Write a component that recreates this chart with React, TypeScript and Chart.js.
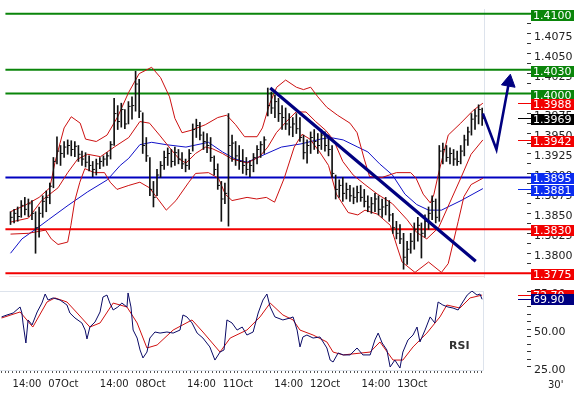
import { useEffect, useRef } from 'react';
import { Chart, registerables } from 'chart.js';
Chart.register(...registerables);

// ---------- price bars (hourly, index = bar number) ----------
const highs = [
  1.3852, 1.3855, 1.3858, 1.3866, 1.3870, 1.3868, 1.3866, 1.3852, 1.3858, 1.3872,
  1.3878, 1.3888, 1.3920, 1.3946, 1.3935, 1.3940, 1.3942, 1.3941, 1.3940, 1.3935,
  1.3928, 1.3926, 1.3922, 1.3915, 1.3918, 1.3920, 1.3922, 1.3926, 1.3940, 1.3994,
  1.3985, 1.3988, 1.3980, 1.3990, 1.3996, 1.4028, 1.4018, 1.3976, 1.3945, 1.3920,
  1.3890, 1.3905, 1.3915, 1.3928, 1.3932, 1.3930, 1.3933, 1.3930, 1.3926, 1.3918,
  1.3930, 1.3962, 1.3968, 1.3964, 1.3952, 1.3950, 1.3945, 1.3922, 1.3912, 1.3890,
  1.3888, 1.3975, 1.3948, 1.3940, 1.3935, 1.3930, 1.3920, 1.3916, 1.3925, 1.3935,
  1.3940, 1.3946, 1.4007, 1.4002, 1.3998, 1.3994, 1.3985, 1.3982, 1.3975, 1.3970,
  1.3975, 1.3970, 1.3948, 1.3942, 1.3952, 1.3955, 1.3950, 1.3955, 1.3952, 1.3948,
  1.3935, 1.3898, 1.3892, 1.3895, 1.3888, 1.3885, 1.3882, 1.3884, 1.3885, 1.3880,
  1.3872, 1.3870, 1.3875, 1.3872, 1.3868, 1.3870, 1.3866, 1.3850, 1.3840, 1.3836,
  1.3825, 1.3815, 1.3825, 1.3838, 1.3845, 1.3838, 1.3848, 1.3858, 1.3872, 1.3868,
  1.3935, 1.3938, 1.3935, 1.3932, 1.3930, 1.3928, 1.3935, 1.3948, 1.3958, 1.3975,
  1.3980, 1.3986, 1.3982,
];
const lows = [
  1.3836, 1.3838, 1.3840, 1.3845, 1.3848, 1.3846, 1.3842, 1.3800, 1.3820, 1.3845,
  1.3852, 1.3862, 1.3882, 1.3912, 1.3910, 1.3920, 1.3924, 1.3922, 1.3921, 1.3915,
  1.3910, 1.3908, 1.3903, 1.3896, 1.3898, 1.3906, 1.3909, 1.3910, 1.3918, 1.3935,
  1.3955, 1.3958, 1.3956, 1.3962, 1.3968, 1.3978, 1.3970, 1.3925, 1.3915, 1.3872,
  1.3858, 1.3872, 1.3895, 1.3905, 1.3910, 1.3908, 1.3910, 1.3912, 1.3906, 1.3902,
  1.3905, 1.3928, 1.3945, 1.3942, 1.3930, 1.3926, 1.3915, 1.3898, 1.3880, 1.3840,
  1.3862, 1.3834, 1.3915, 1.3910, 1.3905, 1.3900, 1.3898, 1.3896, 1.3902, 1.3912,
  1.3920, 1.3925, 1.3972, 1.3975, 1.3970, 1.3965, 1.3955, 1.3955, 1.3948, 1.3946,
  1.3950, 1.3940, 1.3918, 1.3913, 1.3925, 1.3930, 1.3925, 1.3930, 1.3928, 1.3922,
  1.3895, 1.3868, 1.3870, 1.3865, 1.3868, 1.3865, 1.3862, 1.3864, 1.3865, 1.3858,
  1.3852, 1.3850, 1.3852, 1.3848, 1.3845, 1.3848, 1.3840, 1.3825, 1.3818, 1.3812,
  1.3780, 1.3786, 1.3800, 1.3805, 1.3815, 1.3794, 1.3820, 1.3830, 1.3842, 1.3838,
  1.3840, 1.3912, 1.3915, 1.3912, 1.3910, 1.3910, 1.3912, 1.3922, 1.3935, 1.3948,
  1.3955, 1.3962, 1.3960,
];
const closes = [
  1.3845, 1.3850, 1.3846, 1.3860, 1.3855, 1.3862, 1.3850, 1.3832, 1.3850, 1.3865,
  1.3870, 1.3884, 1.3915, 1.3928, 1.3925, 1.3933, 1.3935, 1.3930, 1.3934, 1.3924,
  1.3918, 1.3914, 1.3910, 1.3905, 1.3912, 1.3915, 1.3918, 1.3922, 1.3936, 1.3975,
  1.3965, 1.3980, 1.3962, 1.3984, 1.3985, 1.4012, 1.3978, 1.3935, 1.3922, 1.3880,
  1.3870, 1.3898, 1.3910, 1.3920, 1.3925, 1.3915, 1.3926, 1.3918, 1.3912, 1.3910,
  1.3925, 1.3955, 1.3960, 1.3948, 1.3940, 1.3935, 1.3920, 1.3905, 1.3885, 1.3868,
  1.3875, 1.3935, 1.3938, 1.3922, 1.3915, 1.3910, 1.3905, 1.3910, 1.3920, 1.3930,
  1.3936, 1.3942, 1.3985, 1.3982, 1.3990, 1.3975, 1.3970, 1.3962, 1.3958, 1.3962,
  1.3956, 1.3945, 1.3926, 1.3935, 1.3945, 1.3940, 1.3935, 1.3948, 1.3935, 1.3930,
  1.3900, 1.3880, 1.3885, 1.3875, 1.3880, 1.3872, 1.3870, 1.3876, 1.3870, 1.3865,
  1.3858, 1.3862, 1.3868, 1.3855, 1.3858, 1.3860, 1.3848, 1.3832, 1.3825, 1.3818,
  1.3795, 1.3805, 1.3815, 1.3830, 1.3835, 1.3825, 1.3840, 1.3850, 1.3865, 1.3845,
  1.3928, 1.3930, 1.3920, 1.3925, 1.3918, 1.3915, 1.3928, 1.3942, 1.3952, 1.3968,
  1.3972, 1.3980, 1.3969,
];

// ---------- Bollinger bands & moving average (bar index, price) ----------
const ubIdx = [0, 4, 8, 11, 12.5, 15, 17, 19.5, 21, 24, 27, 30, 33, 36, 39.5, 42, 44.5, 46, 48, 50.5, 54.5, 58, 60.5, 63, 65.5, 69, 70.5, 72.5, 74.5, 77, 80, 82, 84, 86, 88.5, 91.5, 95, 97, 99, 100.5, 104, 108, 112, 113.5, 115.5, 117.5, 118.5, 120, 122.5, 126, 129.5, 132.2];
const ubVals = [1.3852, 1.3860, 1.3870, 1.3882, 1.3915, 1.3957, 1.3971, 1.3963, 1.3943, 1.3940, 1.3948, 1.3971, 1.4001, 1.4025, 1.4033, 1.4020, 1.3996, 1.3969, 1.3951, 1.3954, 1.3961, 1.3970, 1.3973, 1.3961, 1.3946, 1.3946, 1.3957, 1.3987, 1.4008, 1.4017, 1.4008, 1.4005, 1.4008, 1.3996, 1.3983, 1.3973, 1.3963, 1.3951, 1.3918, 1.3896, 1.3895, 1.3901, 1.3901, 1.3894, 1.3874, 1.3863, 1.3874, 1.3904, 1.3948, 1.3963, 1.3979, 1.3988];
const mbIdx = [0, 5, 8.7, 13.3, 16, 18.8, 21.6, 25.2, 29, 33.1, 36.2, 38.9, 41.7, 44.4, 47.2, 49.1, 51.8, 54.6, 56.5, 59.3, 62, 66.2, 69.7, 72, 74.4, 77.2, 79.9, 82.7, 85.4, 88.2, 90.4, 93, 95.9, 99.2, 102.7, 106.9, 111, 113.7, 116.5, 119.8, 123.4, 126.1, 128.9, 132.2];
const mbVals = [1.3839, 1.3844, 1.3866, 1.3882, 1.3901, 1.3918, 1.3924, 1.3921, 1.3933, 1.3945, 1.3965, 1.3963, 1.3948, 1.3933, 1.3918, 1.3913, 1.3925, 1.3933, 1.3931, 1.3925, 1.3918, 1.3913, 1.3921, 1.3933, 1.3951, 1.3965, 1.3977, 1.3977, 1.3965, 1.3954, 1.3942, 1.3915, 1.3898, 1.3886, 1.3874, 1.3862, 1.3842, 1.3826, 1.3818, 1.3832, 1.3868, 1.3895, 1.3924, 1.3942];
const lbIdx = [0, 5, 9.8, 11.4, 13.3, 16, 16.9, 18, 19.4, 20.8, 23.5, 26.3, 27.9, 29.8, 33.1, 36.2, 38.9, 43.6, 46.3, 49.9, 51.8, 55.4, 58.2, 60.1, 62, 66.2, 68.9, 71.6, 73.9, 76.6, 79.4, 81.6, 83.8, 86.5, 89, 91.2, 94.5, 97.2, 99.2, 102.7, 106.3, 108.2, 109.6, 113.2, 117, 120.6, 122.5, 125.3, 126.9, 128.9, 132.2];
const lbVals = [1.3824, 1.3825, 1.3829, 1.3818, 1.3811, 1.3814, 1.3835, 1.3866, 1.3889, 1.3906, 1.3901, 1.3901, 1.3889, 1.3880, 1.3885, 1.3889, 1.3882, 1.3854, 1.3866, 1.3889, 1.3900, 1.3901, 1.3894, 1.3874, 1.3866, 1.3870, 1.3868, 1.3870, 1.3864, 1.3894, 1.3933, 1.3949, 1.3943, 1.3927, 1.3910, 1.3874, 1.3851, 1.3848, 1.3854, 1.3849, 1.3835, 1.3808, 1.3789, 1.3776, 1.3789, 1.3776, 1.3787, 1.3840, 1.3871, 1.3886, 1.3894];
const maIdx = [0, 3.2, 7, 10.6, 16.1, 21.6, 27.1, 30.7, 33.1, 36.2, 39.5, 43.6, 49.1, 55.4, 59.3, 62.9, 66.2, 69.2, 75.8, 81.3, 86.8, 89.5, 93.1, 97.2, 100, 103.3, 106.9, 110.4, 113.7, 117, 120.6, 126.1, 132.2];
const maVals = [1.3800, 1.3818, 1.3830, 1.3842, 1.3860, 1.3877, 1.3892, 1.3910, 1.3919, 1.3936, 1.3939, 1.3936, 1.3933, 1.3939, 1.3927, 1.3918, 1.3914, 1.3920, 1.3933, 1.3937, 1.3943, 1.3945, 1.3942, 1.3933, 1.3927, 1.3912, 1.3898, 1.3874, 1.3861, 1.3854, 1.3854, 1.3866, 1.3881];

// ---------- RSI ----------
const rsiIdx = [0, 1.5, 3.2, 5.1, 5.6, 5.9, 6.7, 7.3, 8.4, 9.8, 11.1, 12, 12.8, 14.2, 16.1, 18, 18.8, 20.2, 22.1, 23, 23.5, 24.3, 25.7, 27.1, 27.9, 29, 29.8, 30.7, 32, 33.1, 34.5, 34.8, 35.6, 36.2, 37.3, 38.1, 38.9, 40, 40.8, 42.2, 43.6, 45.5, 47.2, 49.1, 49.9, 51, 52.4, 53.8, 55.4, 57.3, 58.7, 60.1, 61.2, 62, 63.4, 64.8, 66.2, 67.5, 69.2, 70.6, 71.9, 73, 73.9, 75.2, 77.4, 79.4, 80.2, 81.3, 82.1, 82.9, 84, 85.7, 87.6, 89.5, 90.4, 91.2, 92.6, 94, 95.9, 97.8, 99.4, 101.4, 102.7, 103.6, 104.7, 106, 106.9, 108.2, 109.6, 110.4, 111.8, 113.2, 114.3, 115.1, 116.5, 117.9, 119.2, 120.1, 121.4, 122.8, 124.2, 125.6, 126.7, 128.1, 129.4, 130.8, 131.6, 132.2];
const rsiVals = [58.2, 59.5, 60.8, 64.8, 60.8, 54.2, 40.9, 56.2, 52.9, 61.5, 67.4, 73.4, 69.4, 70.8, 69.4, 66.1, 60.8, 57.5, 54.2, 49.5, 43.6, 51.5, 54.8, 61.5, 71.4, 72.7, 67.4, 62.8, 64.8, 67.4, 64.8, 74.1, 64.8, 49.5, 44.2, 36.3, 31.0, 34.9, 44.2, 48.2, 47.5, 48.2, 47.5, 49.5, 59.5, 58.2, 54.2, 47.5, 44.2, 38.3, 29.6, 34.9, 36.3, 56.2, 54.2, 49.5, 51.5, 46.2, 48.2, 60.8, 69.4, 73.4, 64.8, 58.2, 56.2, 57.5, 58.2, 49.5, 38.3, 44.9, 46.2, 44.2, 44.9, 37.6, 29.6, 28.3, 34.3, 33.0, 33.0, 37.6, 33.0, 33.0, 42.9, 47.5, 40.9, 36.3, 25.0, 29.6, 24.3, 34.9, 42.9, 46.2, 51.5, 41.6, 49.5, 58.2, 54.2, 68.1, 66.1, 64.8, 64.1, 62.8, 67.4, 72.7, 75.4, 72.7, 73.4, 69.9];
const sigIdx = [0, 5.1, 8.6, 12.5, 14.7, 18, 20.8, 24.3, 27.1, 30.7, 34.5, 37.3, 40, 42.8, 47.2, 52.4, 55.4, 60.1, 62.9, 67.5, 71.1, 73.9, 77.4, 80.2, 82.1, 85.7, 89.5, 91.2, 94, 101.4, 104.1, 107.7, 110.4, 113.2, 117, 120.6, 122.5, 126.1, 128.9, 132.2];
const sigVals = [57.5, 61.5, 51.5, 68.1, 70.8, 68.1, 60.8, 51.5, 54.2, 67.4, 64.8, 54.2, 37.6, 39.6, 49.5, 56.2, 48.2, 34.9, 44.2, 49.5, 58.2, 67.4, 59.5, 56.2, 49.5, 46.2, 41.6, 34.9, 33.0, 34.9, 41.6, 29.6, 29.6, 38.3, 47.5, 58.2, 66.1, 64.1, 70.8, 72.7];

// ---------- levels, trend line, projection ----------
const levelValues = [1.4100, 1.4030, 1.4000, 1.3895, 1.3830, 1.3775];
const levelKinds = ['res', 'res', 'res', 'pivot', 'sup', 'sup'];
const trendIdx = [72.7, 130.2];
const trendVals = [1.4007, 1.3790];
const arrowIdx = [132.2, 136.0, 139.5];
const arrowVals = [1.3975, 1.3930, 1.40144];

// ---------- time axis ----------
const timeTickIdx = [7, 17, 31, 41, 55, 65, 79, 89, 103, 113];
const timeTickLabels = ['14:00', '07Oct', '14:00', '08Oct', '14:00', '11Oct', '14:00', '12Oct', '14:00', '13Oct'];

// axis ranges
const X_MIN = -0.426;
const X_MAX = 144.55;
const LEVEL_END = 145.65;
const NOW_IDX = 132.45;
const P_MIN = 1.3769;
const P_MAX = 1.4106;
const R_MIN = 23.0;
const R_MAX = 75.4;

const GREEN = '#0a850a';
const RED = '#f20000';
const BLUE_LINE = '#0000c0';
const BLUE_BOX = '#0a2cf0';
const NAVY = '#000080';
const BAND = '#cc1010';
const MA_BLUE = '#1010c8';
const FONT = "'DejaVu Sans'";

Chart.defaults.font.family = FONT;

const last = (a: number[]) => a[a.length - 1];
const pts = (idx: number[], vals: number[]) => idx.map((x, k) => ({ x, y: vals[k] }));

const lineDs = (data: any[], color: string, width: number, order: number, extra: any = {}) => ({
  type: 'line',
  data,
  borderColor: color,
  borderWidth: width,
  pointRadius: 0,
  tension: 0,
  fill: false,
  order,
  ...extra,
});

type Tag = { value: number; bg: string; leader?: boolean; digits: number };

const tagPlugin = (tags: Tag[], shift: number) => ({
  id: 'tags',
  afterDraw(chart: any) {
    const { ctx, chartArea: a, scales } = chart;
    const y = scales.y;
    const left = a.right + 4;
    const w = chart.width - left;
    ctx.save();
    ctx.font = `11px ${FONT}`;
    ctx.textBaseline = 'middle';
    ctx.textAlign = 'left';
    tags.forEach((t) => {
      const py = y.getPixelForValue(t.value);
      if (t.leader) {
        ctx.strokeStyle = t.bg;
        ctx.lineWidth = 1;
        ctx.beginPath();
        ctx.moveTo(a.right - 9, Math.round(py) + 0.5);
        ctx.lineTo(left, Math.round(py) + 0.5);
        ctx.stroke();
      }
      const top = Math.round(py + shift - 5.5);
      ctx.fillStyle = t.bg;
      ctx.fillRect(left, top, w, 11);
      ctx.fillStyle = '#ffffff';
      ctx.fillText(t.value.toFixed(t.digits), left + 2, top + 6);
    });
    ctx.restore();
  },
});

const framePlugin = (kind: 'main' | 'rsi') => ({
  id: 'frame',
  beforeDatasetsDraw(chart: any) {
    const { ctx, chartArea: a, scales } = chart;
    const nx = Math.round(scales.x.getPixelForValue(NOW_IDX)) + 0.5;
    ctx.save();
    ctx.lineWidth = 1;
    ctx.strokeStyle = '#dde3ec';
    ctx.beginPath();
    ctx.moveTo(nx, a.top);
    ctx.lineTo(nx, a.bottom);
    if (kind === 'rsi') {
      ctx.moveTo(a.left, a.top + 0.5);
      ctx.lineTo(nx, a.top + 0.5);
      ctx.moveTo(a.left, a.bottom + 0.5);
      ctx.lineTo(nx, a.bottom + 0.5);
    }
    ctx.stroke();
    if (kind === 'main') {
      ctx.strokeStyle = '#f6dada';
      ctx.beginPath();
      ctx.moveTo(a.left, a.bottom - 1.5);
      ctx.lineTo(nx, a.bottom - 1.5);
      ctx.stroke();
    }
    ctx.restore();
  },
});

function mainConfig(): any {
  const levelColor = (k: string) => (k === 'res' ? GREEN : k === 'sup' ? RED : BLUE_LINE);
  const datasets: any[] = [
    lineDs(pts(trendIdx, trendVals), NAVY, 3.2, 0),
    lineDs(pts(arrowIdx, arrowVals), NAVY, 2.6, 0, { clip: false }),
    {
      type: 'scatter',
      data: [{ x: last(arrowIdx), y: last(arrowVals) }],
      pointStyle: 'triangle',
      pointRadius: 8,
      rotation: 10,
      backgroundColor: NAVY,
      borderColor: NAVY,
      borderWidth: 1,
      order: 0,
      clip: false,
    },
    {
      type: 'bar',
      data: highs.map((h, i) => ({ x: i, y: [lows[i], h] })),
      backgroundColor: '#111111',
      barThickness: 1,
      grouped: false,
      order: 2,
    },
    {
      type: 'scatter',
      data: closes.map((c, i) => ({ x: i + 0.3, y: c })),
      pointStyle: 'line',
      pointRadius: 1.2,
      borderColor: '#111111',
      borderWidth: 1,
      showLine: false,
      order: 2,
    },
    lineDs(pts(ubIdx, ubVals), BAND, 1, 4),
    lineDs(pts(mbIdx, mbVals), BAND, 1, 4),
    lineDs(pts(lbIdx, lbVals), BAND, 1, 4),
    lineDs(pts(maIdx, maVals), MA_BLUE, 1, 4),
    ...levelValues.map((v, k) =>
      lineDs(
        [
          { x: X_MIN - 1, y: v },
          { x: LEVEL_END, y: v },
        ],
        levelColor(levelKinds[k]),
        2,
        6,
        { clip: false }
      )
    ),
  ];
  const tags: Tag[] = [
    { value: levelValues[0], bg: GREEN, digits: 4 },
    { value: levelValues[1], bg: GREEN, digits: 4 },
    { value: levelValues[2], bg: GREEN, digits: 4 },
    { value: last(ubVals), bg: RED, leader: true, digits: 4 },
    { value: last(closes), bg: '#000000', leader: true, digits: 4 },
    { value: last(mbVals), bg: RED, leader: true, digits: 4 },
    { value: levelValues[3], bg: BLUE_BOX, digits: 4 },
    { value: last(maVals), bg: BLUE_BOX, leader: true, digits: 4 },
    { value: levelValues[4], bg: RED, digits: 4 },
    { value: levelValues[5], bg: RED, digits: 4 },
  ];
  const step = 0.00125;
  return {
    type: 'bar',
    data: { datasets },
    options: {
      animation: false,
      responsive: false,
      devicePixelRatio: 1,
      events: [],
      layout: { padding: { left: 0, right: 0, top: 0, bottom: 4 } },
      plugins: { legend: { display: false }, tooltip: { enabled: false } },
      scales: {
        x: { type: 'linear', min: X_MIN, max: X_MAX, bounds: 'data', offset: false, display: false },
        y: {
          type: 'linear',
          position: 'right',
          min: P_MIN,
          max: P_MAX,
          bounds: 'data',
          afterBuildTicks: (s: any) => {
            const out: any[] = [];
            for (let k = Math.ceil(P_MIN / step); k <= Math.floor(P_MAX / step); k++) out.push({ value: Math.round(k * 125) / 100000 });
            s.ticks = out;
          },
          afterFit: (s: any) => {
            s.width = 47;
            s.paddingTop = 0;
            s.paddingBottom = 0;
          },
          grid: { drawOnChartArea: false, drawTicks: true, tickLength: 4, color: '#333333', lineWidth: 1 },
          border: { display: false },
          ticks: {
            autoSkip: false,
            padding: 3,
            labelOffset: 3,
            color: '#222222',
            font: { size: 11, family: FONT },
            callback: (v: any) => (Math.round(Number(v) / step) % 2 === 0 ? Number(v).toFixed(4) : ''),
          },
        },
      },
    },
    plugins: [framePlugin('main'), tagPlugin(tags, 1.5)],
  };
}

function rsiConfig(): any {
  const tags: Tag[] = [
    { value: last(sigVals), bg: RED, leader: true, digits: 2 },
    { value: last(rsiVals), bg: NAVY, leader: true, digits: 2 },
  ];
  return {
    type: 'line',
    data: {
      datasets: [
        lineDs(pts(rsiIdx, rsiVals), '#0a0a66', 1, 1),
        lineDs(pts(sigIdx, sigVals), '#d01010', 1, 2),
      ],
    },
    options: {
      animation: false,
      responsive: false,
      devicePixelRatio: 1,
      events: [],
      layout: { padding: { left: 0, right: 0, top: 4, bottom: 0 } },
      plugins: { legend: { display: false }, tooltip: { enabled: false } },
      scales: {
        x: {
          type: 'linear',
          min: X_MIN,
          max: X_MAX,
          bounds: 'data',
          offset: false,
          position: 'bottom',
          afterBuildTicks: (s: any) => {
            s.ticks = closes.map((_, i) => ({ value: i }));
          },
          afterFit: (s: any) => {
            s.height = 25;
            s.paddingLeft = 0;
            s.paddingRight = 0;
          },
          grid: { drawOnChartArea: false, drawTicks: true, tickLength: 3, color: '#555555' },
          border: { display: false },
          ticks: {
            autoSkip: false,
            maxRotation: 0,
            minRotation: 0,
            padding: 5,
            color: '#222222',
            font: { size: 10, family: FONT },
            callback: (v: any) => {
              const k = timeTickIdx.indexOf(Number(v));
              return k >= 0 ? timeTickLabels[k] : '';
            },
          },
        },
        y: {
          type: 'linear',
          position: 'right',
          min: R_MIN,
          max: R_MAX,
          bounds: 'data',
          afterBuildTicks: (s: any) => {
            const out: any[] = [];
            for (let v = 25; v <= 75; v += 5) out.push({ value: v });
            s.ticks = out;
          },
          afterFit: (s: any) => {
            s.width = 47;
            s.paddingTop = 0;
            s.paddingBottom = 0;
          },
          grid: { drawOnChartArea: false, drawTicks: true, tickLength: 4, color: '#333333' },
          border: { display: false },
          ticks: {
            autoSkip: false,
            padding: 3,
            labelOffset: 3,
            color: '#222222',
            font: { size: 11, family: FONT },
            callback: (v: any) => (Number(v) % 25 === 0 ? Number(v).toFixed(2) : ''),
          },
        },
      },
    },
    plugins: [framePlugin('rsi'), tagPlugin(tags, 0)],
  };
}

export default function App() {
  const mainRef = useRef<HTMLCanvasElement>(null);
  const rsiRef = useRef<HTMLCanvasElement>(null);
  useEffect(() => {
    const main = new Chart(mainRef.current as HTMLCanvasElement, mainConfig());
    const rsi = new Chart(rsiRef.current as HTMLCanvasElement, rsiConfig());
    return () => {
      main.destroy();
      rsi.destroy();
    };
  }, []);
  return (
    <div style={{ position: 'absolute', left: 0, top: 0, width: 574, height: 395, background: '#ffffff', overflow: 'hidden' }}>
      <canvas ref={mainRef} width={574} height={287} style={{ position: 'absolute', left: 0, top: 0, width: 574, height: 287 }} />
      <canvas ref={rsiRef} width={574} height={108} style={{ position: 'absolute', left: 0, top: 287, width: 574, height: 108 }} />
      <div style={{ position: 'absolute', left: 449, top: 339, font: `bold 11px ${FONT}`, lineHeight: '13px', color: '#333333' }}>RSI</div>
      <div style={{ position: 'absolute', left: 548, top: 379, font: `10px ${FONT}`, lineHeight: '12px', color: '#222222' }}>30'</div>
    </div>
  );
}
